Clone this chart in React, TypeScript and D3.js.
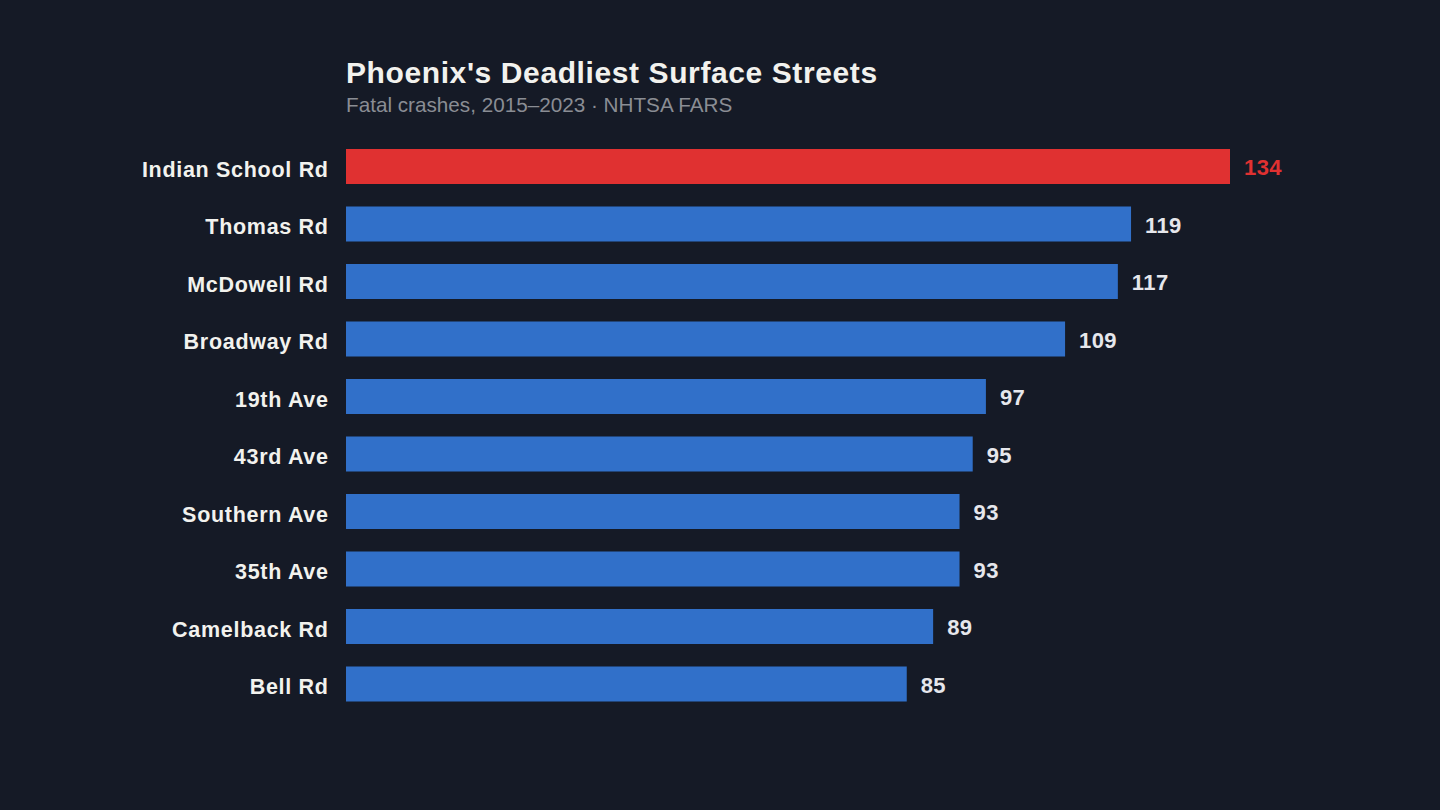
import React from "react";
import * as d3 from "d3";

const streets = [
  "Indian School Rd",
  "Thomas Rd",
  "McDowell Rd",
  "Broadway Rd",
  "19th Ave",
  "43rd Ave",
  "Southern Ave",
  "35th Ave",
  "Camelback Rd",
  "Bell Rd",
];
const crashes = [134, 119, 117, 109, 97, 95, 93, 93, 89, 85];
const highlighted = "Indian School Rd";

const titleText = "Phoenix's Deadliest Surface Streets";
const subtitleText = "Fatal crashes, 2015–2023 · NHTSA FARS";

const W = 1440;
const H = 810;
const BG = "#151a26";
const RED = "#e03131";
const BLUE = "#3170c9";
const FONT = "'Liberation Sans', Arial, Helvetica, sans-serif";

export default function App() {
  const x = d3.scaleLinear().domain([0, d3.max(crashes) as number]).range([346, 1230]);
  const pi = 22.5 / 57.5;
  const y = d3
    .scaleBand<string>()
    .domain(streets)
    .range([149 - (pi / 2) * 57.5, 149 - (pi / 2) * 57.5 + 575])
    .paddingInner(pi)
    .paddingOuter(pi / 2);

  return (
    <div style={{ position: "fixed", left: 0, top: 0, width: W, height: H, background: BG }}>
      <svg width={W} height={H} style={{ display: "block" }}>
        <rect x={0} y={0} width={W} height={H} fill={BG} />
        <text
          x={346}
          y={83.3}
          fill="#f2f2ee"
          fontFamily={FONT}
          fontWeight={700}
          fontSize={30}
          letterSpacing={0.6}
        >
          {titleText}
        </text>
        <text x={346} y={112} fill="#8a8d94" fontFamily={FONT} fontSize={20.7}>
          {subtitleText}
        </text>
        {streets.map((s, i) => {
          const v = crashes[i];
          const y0 = y(s) as number;
          const bw = y.bandwidth();
          const c = y0 + bw / 2;
          const hl = s === highlighted;
          return (
            <g key={s}>
              <rect x={x(0)} y={y0} width={x(v) - x(0)} height={bw} fill={hl ? RED : BLUE} />
              <text
                x={328.7}
                y={c + 10.2}
                textAnchor="end"
                fill="#f2f2ee"
                fontFamily={FONT}
                fontWeight={700}
                fontSize={21.5}
                letterSpacing={0.7}
              >
                {s}
              </text>
              <text
                x={x(v) + 14}
                y={c + 8.5}
                fill={hl ? RED : "#e6e7ec"}
                fontFamily={FONT}
                fontWeight={700}
                fontSize={22}
                letterSpacing={0.4}
              >
                {v}
              </text>
            </g>
          );
        })}
      </svg>
    </div>
  );
}
